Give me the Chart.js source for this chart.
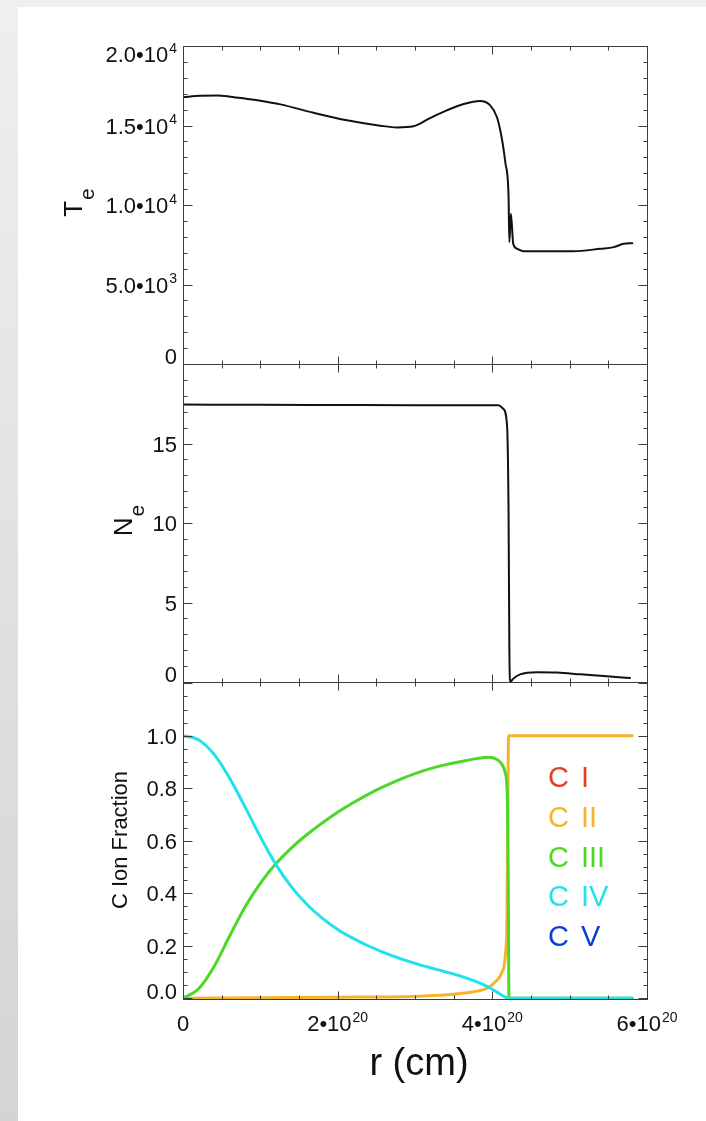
<!DOCTYPE html>
<html>
<head>
<meta charset="utf-8">
<title>T_e, N_e and C ion fractions vs r</title>
<script src="https://cdn.jsdelivr.net/npm/chart.js@4.4.1/dist/chart.umd.min.js"></script>
<style>
  html, body { margin: 0; padding: 0; }
  body { width: 706px; height: 1121px; overflow: hidden; position: relative;
         background: linear-gradient(to bottom, #efefef, #d4d4d4); }
  #sheet { position: absolute; left: 18px; top: 7px; right: 0; bottom: 0; background: #fff; }
  canvas { position: absolute; left: 0; top: 0; }
</style>
</head>
<body>
<div id="sheet"></div>
<canvas id="teChart" width="706" height="1121"></canvas>
<canvas id="neChart" width="706" height="1121"></canvas>
<canvas id="ionChart" width="706" height="1121"></canvas>
<script>
// r is given in units of 1e20 cm
const xTicks = [0, 2, 4, 6];
const xTickText = ['0', '2•10^20', '4•10^20', '6•10^20'];

// electron temperature
const teR = [0, 0.22, 0.45, 0.61, 0.82, 1.0, 1.26, 1.69, 2.12, 2.55, 2.77, 2.98, 3.2, 3.41, 3.63, 3.84, 3.97,
             4.06, 4.12, 4.17, 4.21, 4.22, 4.24, 4.27, 4.32, 4.40, 5.05, 5.40, 5.57, 5.70, 5.81];
const teVal = [16780, 16870, 16880, 16810, 16680, 16560, 16330, 15800, 15330, 14990, 14880, 14950, 15480, 15950, 16350, 16540, 16280,
               15520, 14260, 12610, 10490, 7660, 9450, 7560, 7250, 7090, 7090, 7250, 7350, 7560, 7600];
const teTicks = [0, 5000, 10000, 15000, 20000];
const teTickText = ['0', '5.0•10^3', '1.0•10^4', '1.5•10^4', '2.0•10^4'];

// electron density
const neR = [0, 1.0, 2.0, 3.0, 4.08, 4.14, 4.19, 4.21, 4.22, 4.23, 4.27, 4.36, 4.58, 4.84, 5.14, 5.48, 5.78];
const neVal = [17.45, 17.43, 17.42, 17.41, 17.4, 17.19, 16.15, 10.5, 2.2, 0, 0.21, 0.48, 0.61, 0.59, 0.48, 0.36, 0.25];
const neTicks = [0, 5, 10, 15, 20];
const neTickText = ['0', '5', '10', '15', ''];

// carbon ion fractions
const ionNames = ['C I', 'C II', 'C III', 'C IV', 'C V'];
const ionColors = ['#e2401f', '#f6b42b', '#4cd829', '#1fe2ee', '#0b3fd0'];
const c2R = [0, 1.0, 2.0, 2.98, 3.41, 3.76, 3.93, 4.04, 4.12, 4.17, 4.19, 4.20, 4.21, 4.3, 5.81];
const c2Val = [0, 0.002, 0.004, 0.007, 0.013, 0.025, 0.038, 0.063, 0.096, 0.17, 0.325, 0.707, 1.0, 1.0, 1.0];
const c3R = [0, 0.2, 0.4, 0.6, 0.8, 1.0, 1.2, 1.4, 1.6, 1.8, 2.0, 2.2, 2.4, 2.6, 2.8, 3.0, 3.2, 3.4, 3.6, 3.8, 3.95,
             4.06, 4.12, 4.17, 4.195, 4.205, 4.21, 4.215, 4.3, 5.81];
const c3Val = [0, 0.035, 0.12, 0.235, 0.347, 0.438, 0.512, 0.572, 0.623, 0.668, 0.709, 0.745, 0.778, 0.807, 0.833, 0.856, 0.875, 0.89, 0.902, 0.913, 0.918,
               0.91, 0.893, 0.855, 0.76, 0.5, 0.2, 0, 0, 0];
const c4R = [0, 0.2, 0.4, 0.6, 0.8, 1.0, 1.2, 1.4, 1.6, 1.8, 2.0, 2.2, 2.4, 2.6, 2.8, 3.0, 3.2, 3.4, 3.6, 3.8, 3.95,
             4.05, 4.12, 4.17, 4.21, 4.3, 5.81];
const c4Val = [1.0, 0.985, 0.93, 0.84, 0.73, 0.615, 0.51, 0.425, 0.358, 0.305, 0.262, 0.228, 0.199, 0.174, 0.152, 0.133, 0.116, 0.10, 0.083, 0.062, 0.042,
               0.025, 0.012, 0.004, 0, 0, 0];
const ionTicks = [0, 0.2, 0.4, 0.6, 0.8, 1.0, 1.2];
const ionTickText = ['0.0', '0.2', '0.4', '0.6', '0.8', '1.0', ''];

const FONT = '"Liberation Sans", Arial, Helvetica, sans-serif';
const W = 706, H = 1121;
const plotLeft = 183, plotRight = 647;

function pts(xs, ys) {
  return xs.map((x, i) => ({ x: x, y: ys[i] }));
}

// text with optional "^" superscript part
function sciWidth(ctx, s, size) {
  const p = s.split('^');
  ctx.font = size + 'px ' + FONT;
  let w = ctx.measureText(p[0]).width;
  if (p[1]) {
    ctx.font = Math.round(size * 0.64) + 'px ' + FONT;
    w += ctx.measureText(p[1]).width + 1;
  }
  return w;
}
function drawSci(ctx, s, x, base, size) {
  const p = s.split('^');
  ctx.textAlign = 'left';
  ctx.textBaseline = 'alphabetic';
  ctx.font = size + 'px ' + FONT;
  ctx.fillText(p[0], x, base);
  if (p[1]) {
    const w = ctx.measureText(p[0]).width + 1;
    ctx.font = Math.round(size * 0.64) + 'px ' + FONT;
    ctx.fillText(p[1], x + w, base - size * 0.42);
  }
}

// frame, inward ticks, labels
const framePlugin = {
  id: 'frame',
  afterDatasetsDraw(chart, args, o) {
    const { ctx, chartArea: a } = chart;
    const xs = chart.scales.x, ys = chart.scales.y;
    const L = Math.round(a.left) + 0.5, R = Math.round(a.right) + 0.5;
    const T = Math.round(a.top) + 0.5, B = Math.round(a.bottom) + 0.5;
    ctx.save();
    ctx.strokeStyle = '#3c3c3c';
    ctx.lineWidth = 1;
    ctx.strokeRect(L, T, R - L, B - T);
    ctx.beginPath();
    for (let v = 0; v <= 6 + 1e-9; v += 0.5) {
      const px = Math.round(xs.getPixelForValue(v)) + 0.5;
      const len = Math.abs(v / 2 - Math.round(v / 2)) < 1e-6 ? 8 : 4;
      ctx.moveTo(px, B); ctx.lineTo(px, B - len);
      ctx.moveTo(px, T); ctx.lineTo(px, T + len);
    }
    for (let k = 0; ; k++) {
      const v = k * o.yMinor;
      if (v > ys.max + 1e-9) break;
      const py = Math.round(ys.getPixelForValue(v)) + 0.5;
      const major = k % o.yPer === 0;
      const len = major ? 9 : 4;
      ctx.moveTo(L, py); ctx.lineTo(L + len, py);
      ctx.moveTo(R, py); ctx.lineTo(R - len, py);
    }
    ctx.stroke();

    // y tick labels
    ctx.fillStyle = '#111';
    o.yTicks.forEach((v, i) => {
      const s = o.yText[i];
      if (!s) return;
      const py = ys.getPixelForValue(v);
      let base = py + 8;
      base = Math.max(base, a.top + 16);
      base = Math.min(base, a.bottom);
      const w = sciWidth(ctx, s, 22);
      drawSci(ctx, s, 177 - w, base, 22);
    });

    // y title (rotated, with optional subscript)
    const t = o.yTitle;
    ctx.save();
    ctx.translate(t.x, t.y);
    ctx.rotate(-Math.PI / 2);
    ctx.font = t.size + 'px ' + FONT;
    const wMain = ctx.measureText(t.text).width;
    let wSub = 0;
    if (t.sub) {
      ctx.font = t.subSize + 'px ' + FONT;
      wSub = ctx.measureText(t.sub).width;
    }
    const x0 = -(wMain + wSub) / 2;
    ctx.textAlign = 'left';
    ctx.textBaseline = 'alphabetic';
    ctx.font = t.size + 'px ' + FONT;
    ctx.fillText(t.text, x0, 0);
    if (t.sub) {
      ctx.font = t.subSize + 'px ' + FONT;
      ctx.fillText(t.sub, x0 + wMain + 1, t.subDrop);
    }
    ctx.restore();

    // x tick labels and title on the lowest panel
    if (o.xLabels) {
      xTicks.forEach((v, i) => {
        const px = xs.getPixelForValue(v);
        const w = sciWidth(ctx, xTickText[i], 22);
        drawSci(ctx, xTickText[i], px - w / 2, 1031, 22);
      });
      ctx.font = '38px ' + FONT;
      ctx.textAlign = 'center';
      ctx.fillText('r (cm)', (a.left + a.right) / 2 + 4, 1075);
    }

    // legend
    if (o.legend) {
      ctx.font = '29px ' + FONT;
      ctx.textAlign = 'left';
      ionNames.forEach((n, i) => {
        ctx.fillStyle = ionColors[i];
        const parts = n.split(' ');
        ctx.fillText(parts[0], 548, 787 + i * 39.8);
        ctx.fillText(parts[1], 581, 787 + i * 39.8);
      });
    }
    ctx.restore();
  }
};

function makeChart(id, datasets, top, bottom, yMin, yMax, frame) {
  return new Chart(document.getElementById(id), {
    type: 'line',
    data: { datasets: datasets },
    options: {
      responsive: false,
      animation: false,
      events: [],
      layout: { padding: { left: plotLeft, right: W - plotRight, top: top, bottom: H - bottom } },
      elements: { point: { radius: 0 }, line: { borderJoinStyle: 'round', borderCapStyle: 'round', cubicInterpolationMode: 'monotone' } },
      scales: {
        x: { type: 'linear', min: 0, max: 6, display: false },
        y: { type: 'linear', min: yMin, max: yMax, display: false }
      },
      plugins: { legend: { display: false }, tooltip: { enabled: false }, frame: frame }
    },
    plugins: [framePlugin]
  });
}

makeChart('teChart', [
  { data: pts(teR, teVal), borderColor: '#111', borderWidth: 2 }
], 46, 364, 0, 20000, {
  yTicks: teTicks, yText: teTickText, yMinor: 1000, yPer: 5,
  yTitle: { text: 'T', sub: 'e', size: 26, subSize: 21, subDrop: 12, x: 82, y: 203 }
});

makeChart('neChart', [
  { data: pts(neR, neVal), borderColor: '#111', borderWidth: 2 }
], 364, 682, 0, 20, {
  yTicks: neTicks, yText: neTickText, yMinor: 1, yPer: 5,
  yTitle: { text: 'N', sub: 'e', size: 26, subSize: 21, subDrop: 12, x: 132, y: 521 }
});

makeChart('ionChart', [
  { data: pts(c4R, c4Val), borderColor: ionColors[3], borderWidth: 3, order: 0 },
  { data: pts(c3R, c3Val), borderColor: ionColors[2], borderWidth: 3, order: 1 },
  { data: pts(c2R, c2Val), borderColor: ionColors[1], borderWidth: 3, order: 2 }
], 682, 999, -0.003, 1.205, {
  yTicks: ionTicks, yText: ionTickText, yMinor: 0.05, yPer: 4,
  yTitle: { text: 'C Ion Fraction', size: 22, x: 127, y: 840 },
  xLabels: true, legend: true
});
</script>
</body>
</html>
